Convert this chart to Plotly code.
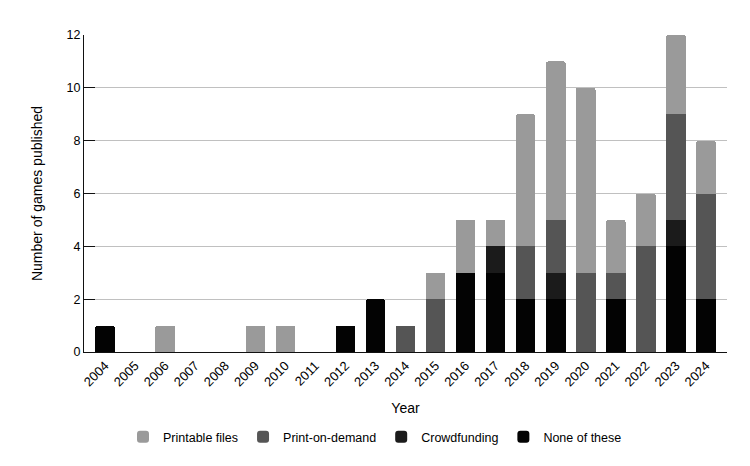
import plotly.graph_objects as go

years = [str(y) for y in range(2004, 2025)]
printable = [0, 0, 1, 0, 0, 1, 1, 0, 0, 0, 0, 1, 2, 1, 5, 6, 7, 2, 2, 3, 2]
print_on_demand = [0, 0, 0, 0, 0, 0, 0, 0, 0, 0, 1, 2, 0, 0, 2, 2, 3, 1, 4, 4, 4]
crowdfunding = [0, 0, 0, 0, 0, 0, 0, 0, 0, 0, 0, 0, 0, 1, 0, 1, 0, 0, 0, 1, 0]
none_of_these = [1, 0, 0, 0, 0, 0, 0, 0, 1, 2, 0, 0, 3, 3, 2, 2, 0, 2, 0, 4, 2]

series = [
    ("None of these", none_of_these, "#030303"),
    ("Crowdfunding", crowdfunding, "#1b1b1b"),
    ("Print-on-demand", print_on_demand, "#555555"),
    ("Printable files", printable, "#9a9a9a"),
]

fig = go.Figure()
for name, vals, col in series:
    fig.add_trace(go.Bar(x=years, y=vals, name=name, marker=dict(color=col, line=dict(width=0))))

fig.update_layout(
    barmode="stack",
    bargap=0.35,
    barcornerradius=2,
    width=750, height=466,
    margin=dict(l=84, r=23, t=35, b=114, autoexpand=False),
    paper_bgcolor="white", plot_bgcolor="white",
    font=dict(family="Liberation Sans, Arial, sans-serif", size=12, color="#000000"),
    legend=dict(orientation="h", xref="container", x=0.5, xanchor="center",
                yref="container", y=29 / 466, yanchor="middle",
                traceorder="reversed", font=dict(size=12.5)),
    xaxis=dict(title=dict(text="Year", standoff=14), tickangle=-45, showline=True,
               linecolor="#111111", linewidth=1, ticks="", showgrid=False,
               range=[-0.7, 20.7], automargin=False, tickfont=dict(size=13)),
    yaxis=dict(title=dict(text="Number of games published", standoff=20), range=[0, 12], dtick=2,
               showgrid=True, gridcolor="#c0c0c0", gridwidth=1, showline=True,
               linecolor="#111111", linewidth=1, ticks="inside", ticklen=11,
               tickcolor="#111111", zeroline=False, automargin=False,
               tickfont=dict(size=12.5)),
)

fig.write_html("out.html")
